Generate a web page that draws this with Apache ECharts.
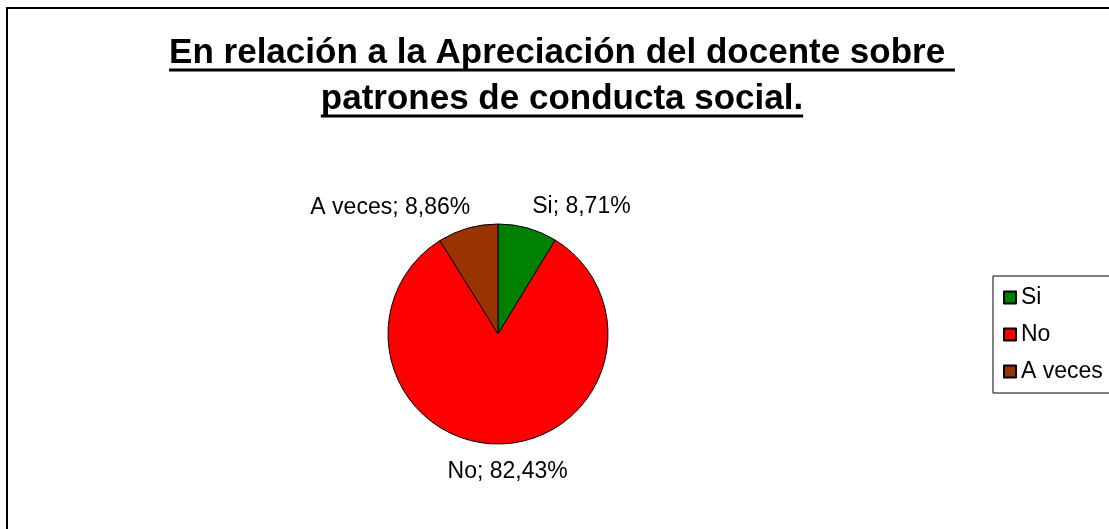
<!DOCTYPE html>
<html><head><meta charset="utf-8">
<script src="https://cdn.jsdelivr.net/npm/echarts@6/dist/echarts.min.js"></script>
<style>html,body{margin:0;padding:0;background:#fff}#c{width:1109px;height:529px}</style>
</head><body><div id="c"></div>
<script>
const categories = ['Si', 'No', 'A veces'];
const values = [8.71, 82.43, 8.86];
const colors = ['#008000', '#FF0000', '#993300'];
const titleLines = ['En relación a la Apreciación del docente sobre ', 'patrones de conducta social.'];

const FONT = 'Arial, "Liberation Sans", sans-serif';
function measure(t, font) { const c = document.createElement('canvas').getContext('2d'); c.font = font; return c.measureText(t).width; }
const titleSize = 35;
const cx = 562;
const graphics = [
  { type: 'rect', z: -1, shape: { x: 7, y: 8, width: 1200, height: 600 }, style: { fill: null, stroke: '#000', lineWidth: 2 } }
];
titleLines.forEach((t, i) => {
  const y = 53 + i * 46;
  const font = 'bold ' + titleSize + 'px ' + FONT;
  const w = measure(t, font);
  graphics.push({ type: 'text', x: cx, y: y, style: { text: t, font: font, fill: '#000', align: 'center', verticalAlign: 'middle' } });
  graphics.push({ type: 'line', shape: { x1: cx - w / 2, y1: y + 17, x2: cx + w / 2, y2: y + 17 }, style: { stroke: '#000', lineWidth: 3 } });
});

const labelShift = [{ dx: -7, dy: 2 }, { align: 'center', dx: 4, dy: 4 }, { dx: 14, dy: 2 }];

const chart = echarts.init(document.getElementById('c'));
chart.setOption({
  animation: false,
  graphic: graphics,
  legend: {
    orient: 'vertical', left: 993, top: 276, itemWidth: 12, itemHeight: 12, itemGap: 14, itemTextGap: 4,
    borderColor: '#000', borderWidth: 1, padding: [10, 12, 10, 10], icon: 'rect', selectedMode: false,
    textStyle: { fontFamily: FONT, fontSize: 23, color: '#000' },
    data: categories
  },
  series: [{
    type: 'pie', center: [498, 334], radius: 110, startAngle: 90, clockwise: true,
    avoidLabelOverlap: false,
    emphasis: { disabled: true },
    itemStyle: { borderColor: '#000', borderWidth: 1 },
    label: {
      show: true, position: 'outside', fontFamily: FONT, fontSize: 23, color: '#000',
      formatter: p => p.name + '; ' + p.value.toFixed(2).replace('.', ',') + '%'
    },
    labelLine: { show: false, length: 24, length2: 0 },
    labelLayout: function (p) { return labelShift[p.dataIndex] || {}; },
    data: categories.map((n, i) => ({ name: n, value: values[i], itemStyle: { color: colors[i] } }))
  }]
});
</script></body></html>
